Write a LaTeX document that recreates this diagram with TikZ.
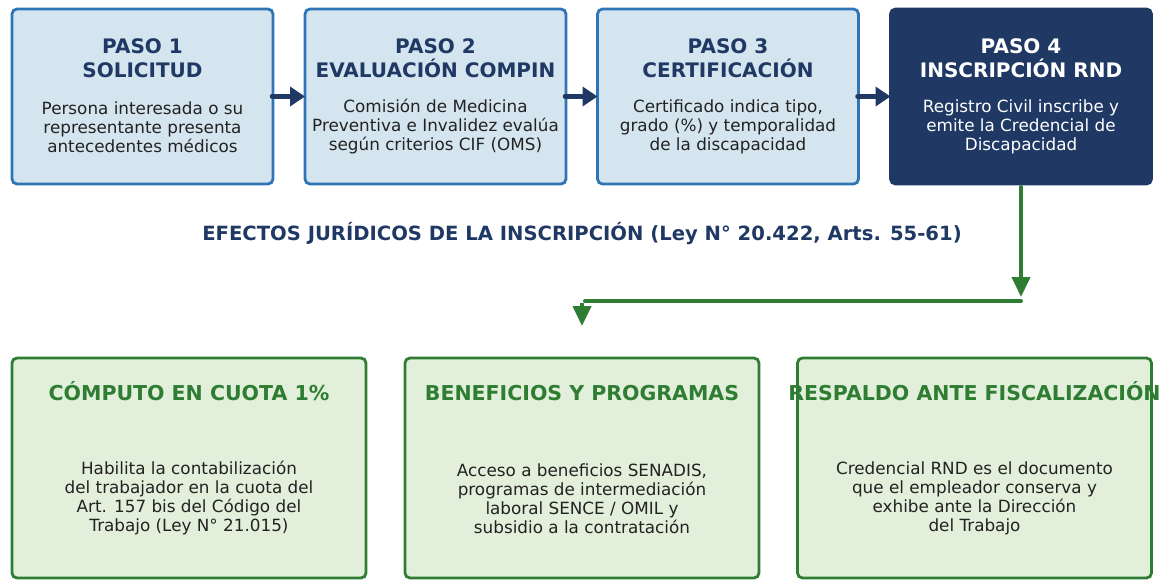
\documentclass[tikz,border=0pt]{standalone}
\usepackage{fontspec}
\setmainfont{DejaVu Sans}
\usetikzlibrary{arrows.meta}

\definecolor{azul}{HTML}{1F3864}
\definecolor{bordeazul}{HTML}{2E75B6}
\definecolor{celeste}{HTML}{D5E5EF}
\definecolor{verde}{HTML}{2E7D32}
\definecolor{verdeclaro}{HTML}{E2EFDA}
\definecolor{texto}{HTML}{222222}

\tikzset{
  paso/.style={draw=bordeazul, fill=celeste, line width=2.8pt, rounded corners=5pt,
    minimum width=261pt, minimum height=175pt, outer sep=0pt},
  efecto/.style={draw=verde, fill=verdeclaro, line width=2.8pt, rounded corners=5pt,
    minimum width=354pt, minimum height=220pt, outer sep=0pt},
  titulo/.style={font=\bfseries\fontsize{20}{24}\selectfont, align=center, text=azul},
  efectotit/.style={font=\bfseries\fontsize{20.5}{24}\selectfont, text=verde, anchor=base},
  cuerpo/.style={font=\fontsize{16.8}{19}\selectfont, align=center, text=texto},
  flecha/.style={azul, line width=4.5pt, line cap=round, -{Triangle[length=15pt,width=19pt]}},
  gflecha/.style={verde, line width=4pt, line cap=round, -{Triangle[length=20pt,width=18pt]}},
}

\begin{document}
\begin{tikzpicture}[x=1pt,y=-1pt]
\useasboundingbox (0,0) rectangle (1163,579);

% pasos del trámite
\node[paso] (p1) at (142.5,96.5) {};
\node[paso] (p2) at (435.5,96.5) {};
\node[paso] (p3) at (728,96.5) {};
\node[paso, draw=azul, fill=azul] (p4) at (1021,96.5) {};

\node[titulo] (t1) at (142.5,58) {PASO 1\\SOLICITUD};
\node[cuerpo] (c1) at (142.5,127) {Persona interesada o su\\representante presenta\\antecedentes médicos};
\node[titulo] (t2) at (435.5,58) {PASO 2\\EVALUACIÓN COMPIN};
\node[cuerpo] (c2) at (435.5,127) {Comisión de Medicina\\Preventiva e Invalidez evalúa\\según criterios CIF (OMS)};
\node[titulo] (t3) at (728,58) {PASO 3\\CERTIFICACIÓN};
\node[cuerpo] (c3) at (728,127) {Certificado indica tipo,\\grado (\%) y temporalidad\\de la discapacidad};
\node[titulo, text=white] (t4) at (1021,58) {PASO 4\\INSCRIPCIÓN RND};
\node[cuerpo, text=white] (c4) at (1021,127) {Registro Civil inscribe y\\emite la Credencial de\\Discapacidad};

\foreach \a/\b in {p1/p2,p2/p3,p3/p4}
  \draw[flecha] ([xshift=-1pt]\a.east) -- (\b.west);

% efectos jurídicos
\node[font=\bfseries\fontsize{19.6}{23}\selectfont, text=azul] (efectos) at (582,234)
  {EFECTOS JURÍDICOS DE LA INSCRIPCIÓN (Ley N° 20.422, Arts. 55-61)};

\coordinate (llega) at (1021,297);
\coordinate (codo) at (1021,301);
\coordinate (esq) at (585,301);
\coordinate (baja1) at (582,303);
\coordinate (baja2) at (582,326);
\draw[gflecha] ([yshift=-3pt]p4.south) -- (llega);
\draw[verde, line width=4pt, line cap=round] (codo) -- (esq);
\draw[gflecha, line cap=butt] (baja1) -- (baja2);

\node[efecto] (e1) at (189,468) {};
\node[efecto] (e2) at (582,468) {};
\node[efecto] (e3) at (974.5,468) {};

\node[efectotit] (u1) at (189,400.5) {CÓMPUTO EN CUOTA 1\%};
\node[cuerpo] (d1) at (189,498.5) {Habilita la contabilización\\del trabajador en la cuota del\\Art. 157 bis del Código del\\Trabajo (Ley N° 21.015)};
\node[efectotit] (u2) at (582,400.5) {BENEFICIOS Y PROGRAMAS};
\node[cuerpo] (d2) at (582,498.5) {Acceso a beneficios SENADIS,\\programas de intermediación\\laboral SENCE / OMIL y\\subsidio a la contratación};
\node[efectotit] (u3) at (974.5,400.5) {RESPALDO ANTE FISCALIZACIÓN};
\node[cuerpo] (d3) at (974.5,498.5) {Credencial RND es el documento\\que el empleador conserva y\\exhibe ante la Dirección\\del Trabajo};

\end{tikzpicture}
\end{document}
